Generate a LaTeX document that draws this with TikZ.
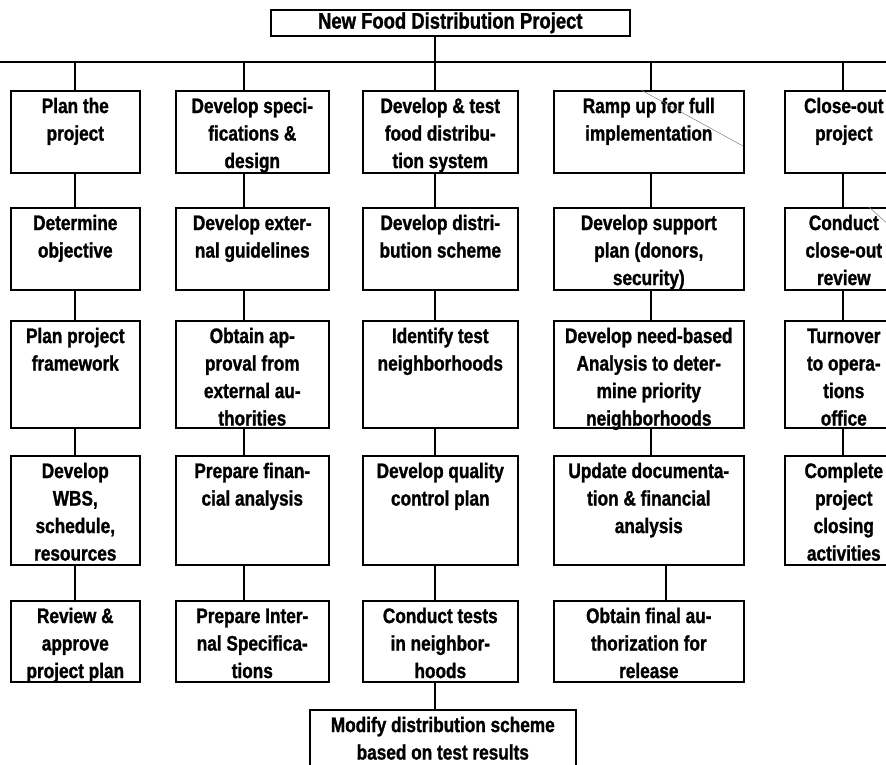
\documentclass[tikz,border=0pt]{standalone}
\usepackage{fontspec}
\newfontfamily\wbsfont{Liberation Sans}[FakeStretch=0.82,FakeBold=1.2]
\newcommand{\bt}[3]{\parbox[c][#2][t]{#1}{\centering\vspace*{3pt}\strut #3}}
\begin{document}
\begin{tikzpicture}[x=1pt,y=-1pt,
  wbsbox/.style={draw, line width=1.6pt, inner sep=0pt, anchor=north west,
    font=\wbsfont\bfseries\fontsize{21}{27.5}\selectfont},
  stem/.style={line width=1.8pt},
  streak/.style={line width=0.5pt, gray}]
\useasboundingbox (0,0) rectangle (886,764);
\clip (0,0) rectangle (886,764);
% title
\node[draw, line width=1.6pt, inner sep=0pt, anchor=north west,
  minimum width=359pt, minimum height=26pt,
  font=\wbsfont\bfseries\fontsize{22.5}{26}\selectfont] (top) at (270,9) {New Food Distribution Project};
% stem x positions
\coordinate (s1) at (75,0);
\coordinate (s2) at (244,0);
\coordinate (s3) at (435,0);
\coordinate (s4) at (651,0);
\coordinate (s4b) at (666,0);
\coordinate (s5) at (843,0);
\coordinate (hl) at (0,62);
\coordinate (hr) at (886,62);
% column 1
\node[wbsbox] (c1r1) at (10,90)  {\bt{129pt}{82pt}{Plan the\\project}};
\node[wbsbox] (c1r2) at (10,207) {\bt{129pt}{82pt}{Determine\\objective}};
\node[wbsbox] (c1r3) at (10,320) {\bt{129pt}{107pt}{Plan project\\framework}};
\node[wbsbox] (c1r4) at (10,455) {\bt{129pt}{109pt}{Develop\\WBS,\\schedule,\\resources}};
\node[wbsbox] (c1r5) at (10,600) {\bt{129pt}{81pt}{Review \&\\approve\\project plan}};
% column 2
\node[wbsbox] (c2r1) at (175,90)  {\bt{153pt}{82pt}{Develop speci-\\fications \&\\design}};
\node[wbsbox] (c2r2) at (175,207) {\bt{153pt}{82pt}{Develop exter-\\nal guidelines}};
\node[wbsbox] (c2r3) at (175,320) {\bt{153pt}{107pt}{Obtain ap-\\proval from\\external au-\\thorities}};
\node[wbsbox] (c2r4) at (175,455) {\bt{153pt}{109pt}{Prepare finan-\\cial analysis}};
\node[wbsbox] (c2r5) at (175,600) {\bt{153pt}{81pt}{Prepare Inter-\\nal Specifica-\\tions}};
% column 3
\node[wbsbox] (c3r1) at (362,90)  {\bt{155pt}{82pt}{Develop \& test\\food distribu-\\tion system}};
\node[wbsbox] (c3r2) at (362,207) {\bt{155pt}{82pt}{Develop distri-\\bution scheme}};
\node[wbsbox] (c3r3) at (362,320) {\bt{155pt}{107pt}{Identify test\\neighborhoods}};
\node[wbsbox] (c3r4) at (362,455) {\bt{155pt}{109pt}{Develop quality\\control plan}};
\node[wbsbox] (c3r5) at (362,600) {\bt{155pt}{81pt}{Conduct tests\\in neighbor-\\hoods}};
\node[wbsbox] (c3r6) at (309,709) {\bt{266pt}{70pt}{Modify distribution scheme\\based on test results}};
% column 4
\node[wbsbox] (c4r1) at (553,90)  {\bt{190pt}{82pt}{Ramp up for full\\implementation}};
\node[wbsbox] (c4r2) at (553,207) {\bt{190pt}{82pt}{Develop support\\plan (donors,\\security)}};
\node[wbsbox] (c4r3) at (553,320) {\bt{190pt}{107pt}{Develop need-based\\Analysis to deter-\\mine priority\\neighborhoods}};
\node[wbsbox] (c4r4) at (553,455) {\bt{190pt}{109pt}{Update documenta-\\tion \& financial\\analysis}};
\node[wbsbox] (c4r5) at (553,600) {\bt{190pt}{81pt}{Obtain final au-\\thorization for\\release}};
% column 5
\node[wbsbox] (c5r1) at (784,90)  {\bt{118pt}{82pt}{Close-out\\project}};
\node[wbsbox] (c5r2) at (784,207) {\bt{118pt}{82pt}{Conduct\\close-out\\review}};
\node[wbsbox] (c5r3) at (784,320) {\bt{118pt}{107pt}{Turnover\\to opera-\\tions\\office}};
\node[wbsbox] (c5r4) at (784,455) {\bt{118pt}{109pt}{Complete\\project\\closing\\activities}};
% connectors
\draw[stem] (hl) -- (hr);
\draw[stem] (top.south -| s3) -- (c3r1.north -| s3);
\foreach \c/\s in {1/s1,2/s2,4/s4,5/s5}
  \draw[stem] (hl -| \s) -- (c\c r1.north -| \s);
\foreach \c/\s in {1/s1,2/s2,3/s3,5/s5}{
  \draw[stem] (c\c r1.south -| \s) -- (c\c r2.north -| \s);
  \draw[stem] (c\c r2.south -| \s) -- (c\c r3.north -| \s);
  \draw[stem] (c\c r3.south -| \s) -- (c\c r4.north -| \s);
}
\draw[stem] (c4r1.south -| s4) -- (c4r2.north -| s4);
\draw[stem] (c4r2.south -| s4) -- (c4r3.north -| s4);
\draw[stem] (c4r3.south -| s4) -- (c4r4.north -| s4);
\draw[stem] (c4r4.south -| s4b) -- (c4r5.north -| s4b);
\foreach \c/\s in {1/s1,2/s2,3/s3}
  \draw[stem] (c\c r4.south -| \s) -- (c\c r5.north -| \s);
\draw[stem] (c3r5.south -| s3) -- (c3r6.north -| s3);
% streaks
\draw[streak] (641,90) -- (743,146);
\draw[streak] (869,207) -- (890,226);
\end{tikzpicture}
\end{document}
